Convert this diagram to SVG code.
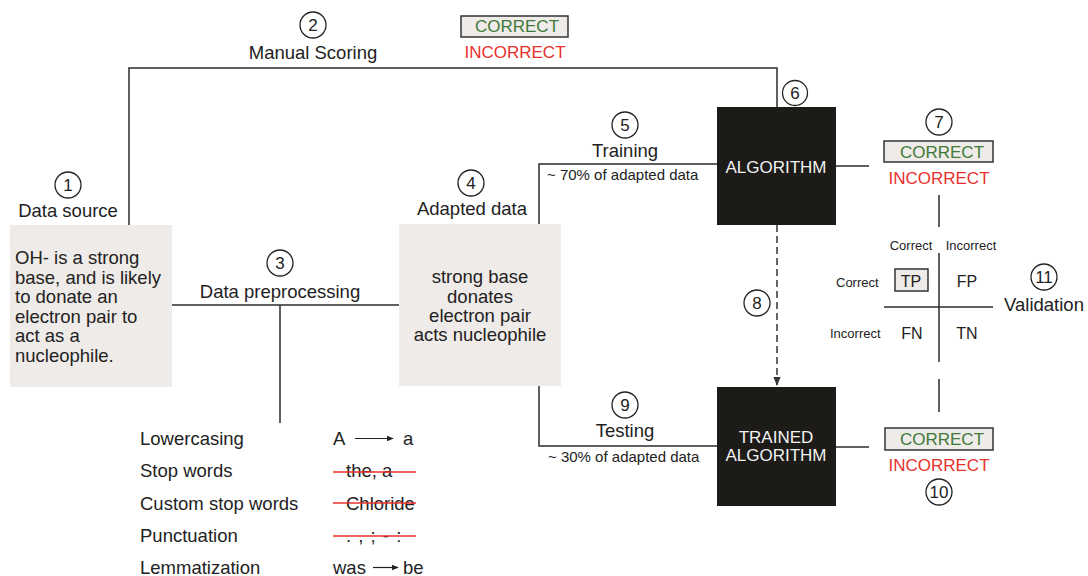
<svg xmlns="http://www.w3.org/2000/svg" width="1088" height="576" viewBox="0 0 1088 576">
  <defs>
    <style>
      text { font-family: "Liberation Sans", Arial, sans-serif; fill: #222; }
      .lbl { font-size: 18.5px; }
      .mid { text-anchor: middle; }
      .num { font-size: 17px; text-anchor: middle; }
      .small { font-size: 15px; }
      .tiny { font-size: 13px; }
      .ok { font-size: 17px; fill: #3f7a3a; text-anchor: middle; }
      .bad { font-size: 17px; fill: #e8302c; text-anchor: middle; }
      .algo { font-size: 17px; fill: #f2f2f2; text-anchor: middle; }
      .wire { fill: none; stroke: #2b2b2b; stroke-width: 1.5; }
      .dash { fill: none; stroke: #333; stroke-width: 1.5; stroke-dasharray: 7 4; }
      .step { fill: #fff; stroke: #222; stroke-width: 1.3; }
      .sheet { fill: #efebe8; }
      .tag { fill: #efebe8; stroke: #333; stroke-width: 1.5; }
      .block { fill: #1c1b18; }
      .strike { stroke: #e8302c; stroke-width: 1.3; }
      .thin { stroke: #222; stroke-width: 1.2; }
    </style>
    <marker id="tip" viewBox="0 0 10 10" refX="9" refY="5" markerWidth="6" markerHeight="6" orient="auto">
      <path d="M0,1 L10,5 L0,9 z" fill="#222"/>
    </marker>
    <marker id="tipDown" viewBox="0 0 10 10" refX="9" refY="5" markerWidth="6" markerHeight="6" orient="auto">
      <path d="M0,1 L10,5 L0,9 z" fill="#333"/>
    </marker>
  </defs>

  <!-- connectors -->
  <g id="connectors">
    <path class="wire" d="M129,225 V68 H777 V107"/>
    <path class="wire" d="M172,305 H399"/>
    <path class="wire" d="M280,305 V423"/>
    <path class="wire" d="M539,224 V164 H717"/>
    <path class="wire" d="M539,386 V446 H717"/>
    <path class="wire" d="M836,166 H869"/>
    <path class="wire" d="M836,447 H869"/>
    <path class="dash" d="M777,225 V385" marker-end="url(#tipDown)"/>
    <path class="wire" d="M939,195 V227"/>
    <path class="wire" d="M939,379 V412"/>
  </g>

  <!-- 1: data source -->
  <g id="data-source">
    <circle class="step" cx="68" cy="185" r="13"/>
    <text class="num" x="68" y="191">1</text>
    <text class="lbl mid" x="68" y="217">Data source</text>
    <rect class="sheet" x="10" y="225" width="162" height="162"/>
    <text class="lbl" x="15" y="264">OH- is a strong</text>
    <text class="lbl" x="15" y="284">base, and is likely</text>
    <text class="lbl" x="15" y="303">to donate an</text>
    <text class="lbl" x="15" y="323">electron pair to</text>
    <text class="lbl" x="15" y="342">act as a</text>
    <text class="lbl" x="15" y="362">nucleophile.</text>
  </g>

  <!-- 2: manual scoring -->
  <g id="manual-scoring">
    <circle class="step" cx="313" cy="25" r="13"/>
    <text class="num" x="313" y="31">2</text>
    <text class="lbl mid" x="313" y="59">Manual Scoring</text>
    <rect class="tag" x="461" y="16" width="107" height="21"/>
    <text class="ok" x="517" y="32">CORRECT</text>
    <text class="bad" x="515" y="58">INCORRECT</text>
  </g>

  <!-- 3: preprocessing -->
  <g id="preprocessing">
    <circle class="step" cx="280" cy="263" r="13"/>
    <text class="num" x="280" y="269">3</text>
    <text class="lbl mid" x="280" y="298">Data preprocessing</text>
    <text class="lbl" x="140" y="445">Lowercasing</text>
    <text class="lbl" x="140" y="477">Stop words</text>
    <text class="lbl" x="140" y="510">Custom stop words</text>
    <text class="lbl" x="140" y="542">Punctuation</text>
    <text class="lbl" x="140" y="574">Lemmatization</text>

    <text class="lbl" x="333" y="445">A</text>
    <line class="thin" x1="355" y1="438.5" x2="393" y2="438.5" marker-end="url(#tip)"/>
    <text class="lbl" x="403" y="445">a</text>

    <text class="lbl" x="346" y="477">the, a</text>
    <line class="strike" x1="333" y1="472" x2="416" y2="472"/>

    <text class="lbl" x="346" y="510">Chloride</text>
    <line class="strike" x1="333" y1="503" x2="416" y2="503"/>

    <text class="lbl" x="346" y="542" style="letter-spacing:1px">. , ; - :</text>
    <line class="strike" x1="333" y1="536" x2="416" y2="536"/>

    <text class="lbl" x="333" y="574">was</text>
    <line class="thin" x1="373" y1="567.5" x2="398" y2="567.5" marker-end="url(#tip)"/>
    <text class="lbl" x="403" y="574">be</text>
  </g>

  <!-- 4: adapted data -->
  <g id="adapted-data">
    <circle class="step" cx="471" cy="183" r="13"/>
    <text class="num" x="471" y="189">4</text>
    <text class="lbl mid" x="472" y="215">Adapted data</text>
    <rect class="sheet" x="399" y="224" width="162" height="162"/>
    <text class="lbl mid" x="480" y="283">strong base</text>
    <text class="lbl mid" x="480" y="303">donates</text>
    <text class="lbl mid" x="480" y="322">electron pair</text>
    <text class="lbl mid" x="480" y="341">acts nucleophile</text>
  </g>

  <!-- 5: training -->
  <g id="training">
    <circle class="step" cx="625" cy="125" r="13"/>
    <text class="num" x="625" y="131">5</text>
    <text class="lbl mid" x="625" y="157">Training</text>
    <text class="small" x="547" y="180">~ 70% of adapted data</text>
  </g>

  <!-- 6: algorithm -->
  <g id="algorithm">
    <circle class="step" cx="795" cy="93" r="12.5"/>
    <text class="num" x="795" y="99">6</text>
    <rect class="block" x="717" y="107" width="119" height="118"/>
    <text class="algo" x="776" y="173">ALGORITHM</text>
  </g>

  <!-- 7: first prediction -->
  <g id="prediction">
    <circle class="step" cx="939" cy="122" r="13"/>
    <text class="num" x="939" y="128">7</text>
    <rect class="tag" x="884" y="141" width="109" height="21"/>
    <text class="ok" x="942" y="158">CORRECT</text>
    <text class="bad" x="939" y="184">INCORRECT</text>
  </g>

  <!-- 8: hand-over of the trained model -->
  <g id="model-transfer">
    <circle class="step" cx="757" cy="303" r="13"/>
    <text class="num" x="757" y="309">8</text>
  </g>

  <!-- 9: testing -->
  <g id="testing">
    <circle class="step" cx="625" cy="405" r="13"/>
    <text class="num" x="625" y="411">9</text>
    <text class="lbl mid" x="625" y="437">Testing</text>
    <text class="small" x="548" y="462">~ 30% of adapted data</text>
  </g>

  <!-- trained algorithm -->
  <g id="trained-algorithm">
    <rect class="block" x="717" y="387" width="119" height="119"/>
    <text class="algo" x="776" y="443">TRAINED</text>
    <text class="algo" x="776" y="461">ALGORITHM</text>
  </g>

  <!-- 10: second prediction -->
  <g id="test-prediction">
    <rect class="tag" x="885" y="428" width="108" height="22"/>
    <text class="ok" x="942" y="445">CORRECT</text>
    <text class="bad" x="939" y="471">INCORRECT</text>
    <circle class="step" cx="939" cy="492" r="13"/>
    <text class="num" x="939" y="498">10</text>
  </g>

  <!-- 11: validation matrix -->
  <g id="validation">
    <line class="wire" x1="939" y1="253" x2="939" y2="362"/>
    <line class="wire" x1="884" y1="307" x2="993" y2="307"/>
    <text class="tiny mid" x="911" y="250">Correct</text>
    <text class="tiny mid" x="971" y="250">Incorrect</text>
    <text class="tiny" x="836" y="287">Correct</text>
    <text class="tiny" x="830" y="338">Incorrect</text>
    <rect class="tag" x="895" y="269" width="33" height="22"/>
    <text class="lbl mid" x="911" y="287" style="font-size:16px">TP</text>
    <text class="lbl mid" x="967" y="287" style="font-size:16px">FP</text>
    <text class="lbl mid" x="912" y="339" style="font-size:16px">FN</text>
    <text class="lbl mid" x="967" y="339" style="font-size:16px">TN</text>
    <circle class="step" cx="1044" cy="277" r="13"/>
    <text class="num" x="1044" y="283">11</text>
    <text class="lbl mid" x="1044" y="311">Validation</text>
  </g>
</svg>
